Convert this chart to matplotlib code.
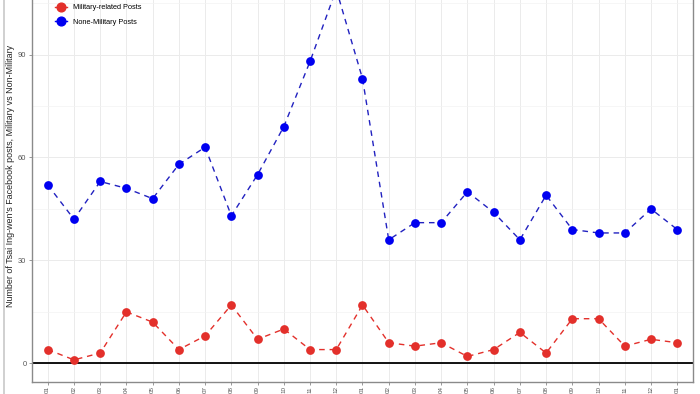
import matplotlib
matplotlib.use("Agg")
import matplotlib.pyplot as plt
from matplotlib.lines import Line2D
import numpy as np

plt.rcParams['font.family'] = ['Liberation Sans', 'DejaVu Sans']

months = ["01", "02", "03", "04", "05", "06", "07", "08", "09", "10", "11", "12",
          "01", "02", "03", "04", "05", "06", "07", "08", "09", "10", "11", "12",
          "01"]
military = [4, 1, 3, 15, 12, 4, 8, 17, 7, 10, 4, 4,
            17, 6, 5, 6, 2, 4, 9, 3, 13, 13, 5, 7, 6]
non_military = [52, 42, 53, 51, 48, 58, 63, 43, 55, 69, 88, 109,
                83, 36, 41, 41, 50, 44, 36, 49, 39, 38, 38, 45, 39]
series_labels = ["Military-related Posts", "None-Military Posts"]
y_ticks = [0, 30, 60, 90]
y_minor = [15, 45, 75, 105]

RED = "#E3302B"
BLUE = "#0000F0"
BLUE_LINE = "#2222C0"

W, H = 700, 394
fig = plt.figure(figsize=(W / 100, H / 100), dpi=100)
fig.patch.set_facecolor("white")

left_px, right_px, bottom_px = 32, 693, 382
top_px = -29.3
ax = fig.add_axes([left_px / W, (H - bottom_px) / H,
                   (right_px - left_px) / W, (bottom_px - top_px) / H])

x = np.arange(1, len(months) + 1)
ymax = max(non_military)
ax.set_ylim(-0.05 * ymax, 1.05 * ymax)
ax.set_xlim(0.4, len(months) + 0.6)

ax.plot(x, military, color=RED, linestyle=(0, (4, 3.5)), linewidth=1.0, zorder=3)
ax.plot(x, military, color=RED, linestyle="none", marker="o", markersize=6.3,
        markeredgewidth=0, zorder=4)
ax.plot(x, non_military, color=BLUE_LINE, linestyle=(0, (4, 3.5)), linewidth=1.0, zorder=3)
ax.plot(x, non_military, color=BLUE, linestyle="none", marker="o", markersize=6.3,
        markeredgewidth=0, zorder=4)

ax.axhline(0, color="black", linewidth=1.3, zorder=2)

ax.set_yticks(y_ticks)
ax.set_yticks(y_minor, minor=True)
ax.set_xticks(x)
ax.set_xticklabels(months, rotation=90, ha="center", va="top")
ax.tick_params(axis="y", which="major", length=2.5, width=0.6, color="#888888",
               labelsize=5.4, labelcolor="#555555", pad=1.5)
ax.tick_params(axis="x", which="major", length=2.2, width=0.6, color="#888888",
               labelsize=4.5, labelcolor="#555555", pad=0.8)
ax.tick_params(axis="y", which="minor", length=0)
ax.grid(True, which="major", color="#EBEBEB", linewidth=0.7, zorder=0)
ax.grid(True, which="minor", axis="y", color="#F3F3F3", linewidth=0.5, zorder=0)
ax.set_axisbelow(True)

for s in ["left", "bottom", "right"]:
    ax.spines[s].set_color("#8A8A8A")
    ax.spines[s].set_linewidth(1.0)
ax.spines["top"].set_visible(False)

ax.set_ylabel("Number of Tsai Ing-wen's Facebook posts, Military vs Non-Military",
              fontsize=6.4, color="#222222")
ax.yaxis.set_label_coords(-0.025, 0.5)

handles = [Line2D([0], [0], color=RED, marker="o", markersize=6.3, linewidth=1.0),
           Line2D([0], [0], color=BLUE, marker="o", markersize=6.3, linewidth=1.0)]
fig.legend(handles, series_labels, loc="upper left",
           bbox_to_anchor=(54 / W, 1 - 2.5 / H), frameon=False, fontsize=5.3,
           handlelength=1.6, handletextpad=0.8, labelspacing=1.0,
           borderpad=0.2, borderaxespad=0)

fig.add_artist(Line2D([4 / W, 4 / W], [0, 1], color="#C8C8C8", linewidth=1.2,
                      transform=fig.transFigure))

fig.savefig("out.png", dpi=100)
